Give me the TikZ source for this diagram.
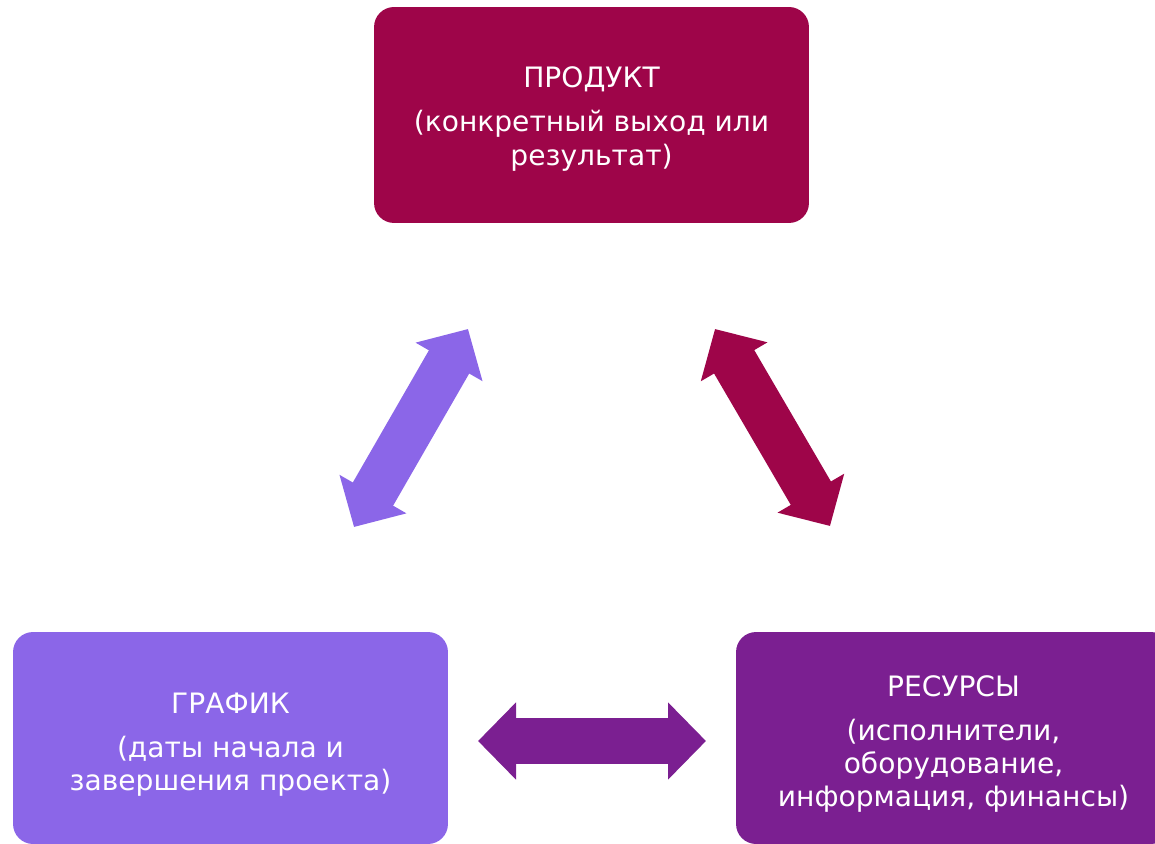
\documentclass[tikz,border=0pt]{standalone}
\usepackage{fontspec}
\setmainfont{DejaVu Sans}
\usetikzlibrary{arrows.meta}
\definecolor{produkt}{HTML}{9E0549}
\definecolor{grafik}{HTML}{8B66E8}
\definecolor{resursy}{HTML}{7B1F91}
\begin{document}
\begin{tikzpicture}[x=0.02cm,y=-0.02cm,
  box/.style={rounded corners=0.4cm, minimum width=8.7cm, minimum height=4.24cm},
  boxtext/.style={text=white, align=center, font=\fontsize{16}{19}\selectfont},
  dblarrow/.style={line width=0.93cm,
    {Triangle[width=1.5cm,length=0.76cm]}-{Triangle[width=1.5cm,length=0.76cm]}}]
\useasboundingbox (0,0) rectangle (1155,844);

% Boxes
  \node[box, fill=produkt, minimum height=4.32cm] (prod) at (591.5,115) {};
  \node[box, fill=grafik] (graf) at (230.5,738) {};
  \node[box, fill=resursy] (res) at (953.5,738) {};

% Texts
  \node[boxtext] (prodtext) at ([yshift=-4*0.02cm]prod.center)
    {ПРОДУКТ\\[6pt](конкретный выход или\\результат)};
  \node[boxtext] (graftext) at ([yshift=-7*0.02cm]graf.center)
    {ГРАФИК\\[6pt](даты начала и\\завершения проекта)};
  \node[boxtext] (restext) at ([yshift=-6*0.02cm]res.center)
    {РЕСУРСЫ\\[6pt](исполнители,\\оборудование,\\информация, финансы)};

% Arrows
  \coordinate (g1) at (354,527);  \coordinate (g2) at (468,329);
  \coordinate (r1) at (715,329);  \coordinate (r2) at (830,526);
  \coordinate (b1) at (478,741);  \coordinate (b2) at (706,741);

  \draw[dblarrow, grafik] (g1) -- (g2);
  \draw[dblarrow, produkt] (r1) -- (r2);
  \draw[dblarrow, resursy] (b1) -- (b2);
\end{tikzpicture}
\end{document}
